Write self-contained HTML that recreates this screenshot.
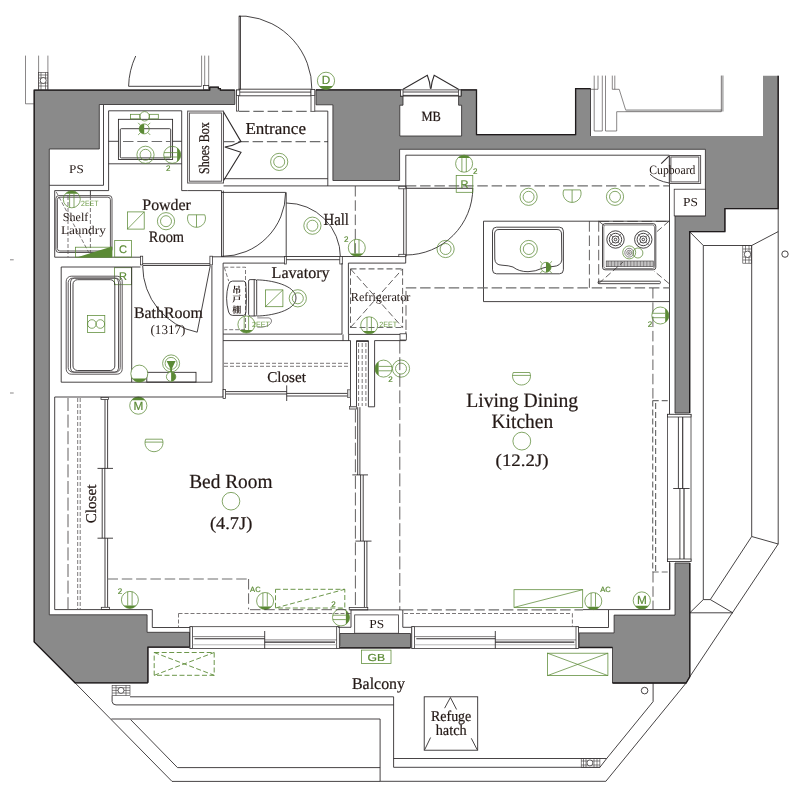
<!DOCTYPE html>
<html lang="en"><head><meta charset="utf-8"><title>Floor plan</title>
<style>
html,body{margin:0;padding:0;background:#fff;}
body{width:803px;height:805px;overflow:hidden;}
svg{display:block;will-change:transform;}
.w{fill:#8a8a8a;stroke:none;}
.wo{fill:none;stroke:#1f1b1c;stroke-width:1.3;stroke-linejoin:miter;}
.wi{fill:none;stroke:#2a2627;stroke-width:0.8;}
.l{fill:none;stroke:#262223;stroke-width:0.85;}
.l2{fill:none;stroke:#2f2b2c;stroke-width:1.1;}
.lt{fill:none;stroke:#3a3637;stroke-width:0.6;}
.lw{fill:#fff;stroke:#2f2b2c;stroke-width:0.75;}
.lg{fill:none;stroke:#5a5657;stroke-width:1;}
.gw{fill:#fff;stroke:#5b8a35;stroke-width:0.75;}
.d{fill:none;stroke:#6e6e6e;stroke-width:1.2;stroke-dasharray:10.5 3.8;}
.ds{fill:none;stroke:#5a5657;stroke-width:0.8;stroke-dasharray:4 2;}
.g{fill:none;stroke:#5b8a35;stroke-width:0.75;}
.gf{fill:#5b8a35;stroke:none;}
.gd{fill:none;stroke:#5b8a35;stroke-width:0.9;stroke-dasharray:5 2.5;}
.dv{fill:none;stroke:#3c3839;stroke-width:0.8;stroke-dasharray:10.5 3.8;}
.dv2{fill:none;stroke:#3c3839;stroke-width:0.8;stroke-dasharray:13 3.6;}
.lf{fill:#cfcfcf;stroke:#4a4647;stroke-width:0.7;}
.lx{fill:none;stroke:#9a9a9a;stroke-width:0.7;}
.dv3{fill:none;stroke:#3c3839;stroke-width:0.8;stroke-dasharray:6.5 3;}
.lgr{fill:none;stroke:#b4b4b4;stroke-width:2.2;}
.d2{fill:none;stroke:#6e6e6e;stroke-width:1.2;stroke-dasharray:6 3;}
.t{font-family:"Liberation Serif","Noto Serif CJK SC",serif;fill:#231815;}
.tb{stroke:#231815;stroke-width:0.22;}
text{text-rendering:geometricPrecision;}
.tg{font-family:"Liberation Sans",sans-serif;fill:#5b8a35;stroke:#5b8a35;stroke-width:0.2;}
.tgs{font-family:"Liberation Sans",sans-serif;fill:#6b9a45;}
.tj{font-family:"Liberation Serif","Noto Serif CJK JP","Noto Serif CJK SC","Noto Sans CJK JP",serif;fill:#231815;}
</style></head>
<body>
<svg width="803" height="805" viewBox="0 0 803 805">
<path class="w" d="M34.2,90.1 L201,90.1 L209.7,90.1 L209.7,87.2 L218.4,87.2 L218.4,88.7 L220.4,88.7 L220.4,90.1 L234.8,90.1 L234.8,104.5 L99.3,104.5 L99.3,149 L49.3,149 L49.3,614.8 L147.1,614.8 L147.1,632.3 L189.5,632.3 L189.5,647.2 L147.9,647.2 L147.9,682.8 L75,682.8 L34.2,642 Z"/>
<path class="w" d="M316,89.9 L400.5,89.9 L400.5,96.1 L403,96.1 L403,105.2 L399.8,105.2 L399.8,136 L461.6,136 L461.6,105.2 L458.6,105.2 L458.6,96.1 L461,96.1 L461,89.9 L476.5,89.9 L476.5,134.7 L575.6,134.7 L575.6,88.6 L590.5,88.6 L590.5,136 L763,136 L763,75.8 L778.2,75.8 L778.2,208.6 L724.9,208.6 L724.9,231.6 L689.7,231.6 L689.7,413 L675,413 L675,215.9 L705.4,215.9 L705.4,149.3 L399.6,149.3 L399.6,180.5 L332.9,180.5 L332.9,104.8 L316,104.8 Z"/>
<path class="w" d="M675,563 L689.8,563 L689.8,676.7 L686.1,683 L612.5,683 L612.5,647.5 L579.2,647.5 L579.2,632.9 L614.1,632.9 L614.1,615.1 L675,615.1 Z"/>
<path class="w" d="M339.8,633.5 L410.5,633.5 L410.5,647.9 L338.5,647.9 L339.8,645.5 Z"/>
<path class="wi" d="M34.2,90.1 L201,90.1 L209.7,90.1 L209.7,87.2 L218.4,87.2 L218.4,88.7 L220.4,88.7 L220.4,90.1 L234.8,90.1 L234.8,104.5 L99.3,104.5 L99.3,149 L49.3,149 L49.3,614.8 L147.1,614.8 L147.1,632.3 L189.5,632.3 L189.5,647.2 L147.9,647.2 L147.9,682.8 L75,682.8 L34.2,642 Z"/>
<path class="wi" d="M675,563 L689.8,563 L689.8,676.7 L686.1,683 L612.5,683 L612.5,647.5 L579.2,647.5 L579.2,632.9 L614.1,632.9 L614.1,615.1 L675,615.1 Z"/>
<path class="wi" d="M339.8,633.5 L410.5,633.5 L410.5,647.9 L338.5,647.9 L339.8,645.5 Z"/>
<path class="wi" d="M316,89.9 L400.5,89.9 L400.5,96.1 L403,96.1 L403,105.2 L399.8,105.2 L399.8,136 L461.6,136 L461.6,105.2 L458.6,105.2 L458.6,96.1 L461,96.1 L461,89.9 L476.5,89.9 L476.5,134.7 L575.6,134.7 L575.6,88.6 L590.5,88.6 L590.5,136"/>
<path class="wi" d="M778.2,75.8 L778.2,208.6 L724.9,208.6 L724.9,231.6 L689.7,231.6 L689.7,413 L675,413 L675,215.9 L705.4,215.9 L705.4,149.3 L399.6,149.3 L399.6,180.5 L332.9,180.5 L332.9,104.8 L316,104.8 L316,89.9"/>
<path class="wo" d="M234.8,90.1 L220.4,90.1 L220.4,88.7 L218.4,88.7 L218.4,87.2 L209.7,87.2 L209.7,90.1 L34.2,90.1 L34.2,642 L75,682.8 L147.9,682.8"/>
<path class="wo" d="M316,89.9 L400.5,89.9"/>
<path class="wo" d="M461,89.9 L476.5,89.9 L476.5,134.7 L575.6,134.7 L575.6,88.6 L590.5,88.6"/>
<path class="wo" d="M778.2,75.8 L778.2,208.6 L724.9,208.6 L724.9,231.6 L689.7,231.6 L689.7,413"/>
<path class="wo" d="M689.8,563 L689.8,676.7 L686.1,683 L612.5,683"/>
<path class="wo" d="M338.5,647.9 L410.5,647.9"/>
<path class="wo" d="M579.2,647.5 L612.5,647.5"/>
<path class="wo" d="M189.5,647.2 L147.9,647.2 L147.9,682.8"/>
<path class="lt" d="M25.5,55.6 L25.5,103.8 L34.2,103.8"/>
<path class="lt" d="M38.6,55.6 L38.6,90"/>
<path class="lt" d="M47.9,55.6 L47.9,90"/>
<rect class="lt" x="38.6" y="72.4" width="9.3" height="17.6"/>
<path class="lt" d="M38.6,75 L47.9,75"/>
<path class="lt" d="M38.6,78 L47.9,78"/>
<path class="lt" d="M38.6,83 L47.9,83"/>
<path class="lt" d="M38.6,86 L47.9,86"/>
<path class="lt" d="M41,72.4 L41,90"/>
<path class="lt" d="M45.5,72.4 L45.5,90"/>
<circle class="lw" cx="43.2" cy="80.5" r="3"/>
<path class="l" d="M135.7,56 A76,76 0 0 0 128.6,86.3 L201.6,86.3"/>
<path class="lt" d="M201.6,55.6 L201.6,86"/>
<path class="lt" d="M204.7,55.6 L204.7,86"/>
<path class="lt" d="M208.7,55.6 L208.7,86"/>
<rect class="lw" x="203.6" y="85.6" width="5.1" height="4"/>
<path class="l" d="M239.1,16.2 L246,16.2 A73,73 0 0 1 311.9,89.8"/>
<rect class="l" x="239.1" y="16.2" width="1.3" height="73"/>
<path class="l" d="M238.5,89.2 L311,89.2"/>
<path class="l" d="M238.5,92.1 L311,92.1"/>
<path class="l" d="M238.5,95.8 L311,95.8"/>
<rect class="lw" x="236.6" y="90" width="1.9" height="21.1"/>
<rect class="lw" x="236.6" y="90" width="3.2" height="5.6"/>
<rect class="lw" x="311" y="89.8" width="3.8" height="21.5"/>
<rect class="lw" x="311" y="89.5" width="3.8" height="6.1"/>
<path class="d" d="M239,111.3 L311,111.3"/>
<path class="d" d="M224,141.6 L328,141.6"/>
<path class="l" d="M314.8,111.1 L327.8,111.1 L327.8,185.9"/>
<path class="l" d="M223.5,178.7 L327.8,178.7"/>
<path class="l" d="M103.5,105 L103.5,185.3 L49.5,185.3"/>
<path class="l" d="M54.7,257.2 L54.7,190.6 L108.6,190.6 L108.6,110.8 L181.7,110.8 L181.7,190.6 L187.4,190.6"/>
<path class="l" d="M223.5,185.9 L405.8,185.9"/>
<path class="l" d="M187.4,190.6 L221.5,190.6"/>
<rect class="lg" x="187.6" y="111.1" width="35.9" height="71.9"/>
<rect class="lg" x="189.4" y="113" width="32.2" height="68.2"/>
<path class="l2" d="M223.6,112 L241,141.6 Q233,146 224.8,147 L241,152.2 L223.6,180.5"/>
<path class="l" d="M108.6,141.3 L118.4,141.3"/>
<path class="l" d="M172.6,141.3 L181.7,141.3"/>
<path class="l" d="M108.6,163.8 L181.7,163.8"/>
<rect class="l" x="118.4" y="119.3" width="54.2" height="40.2"/>
<rect class="l" x="120.3" y="128.7" width="50.4" height="29.2" rx="1"/>
<path class="d" d="M123,141.5 L170,141.5"/>
<circle class="g" cx="144.6" cy="116.3" r="4.7"/>
<rect class="g" x="130.5" y="114.3" width="9.4" height="4.6"/>
<rect class="g" x="149.3" y="114.3" width="9" height="4.6"/>
<circle class="g" cx="144.2" cy="128.9" r="5"/>
<path class="gf" d="M144.2,123.9 A5,5 0 0 0 144.2,133.9 Z"/>
<path class="g" d="M140.6,125.3 L138.152,122.852"/>
<path class="g" d="M140.6,132.5 L138.152,134.948"/>
<path class="g" d="M147.8,125.3 L150.248,122.852"/>
<path class="g" d="M147.8,132.5 L150.248,134.948"/>
<circle class="g" cx="145.5" cy="154.8" r="8.6"/>
<circle class="g" cx="145.5" cy="154.8" r="5.5"/>
<circle class="g" cx="172.2" cy="154.8" r="8.5"/>
<path class="gf" d="M177.10,147.85 A8.5,8.5 0 0 1 177.10,161.75 Z"/>
<path class="g" d="M163.99,152.6 L177.1,152.6"/>
<path class="g" d="M163.99,157 L177.1,157"/>
<text class="tg" x="168.2" y="171.2" font-size="8" text-anchor="middle">2</text>
<rect class="g" x="127.4" y="211.9" width="16.8" height="17.2"/>
<path class="g" d="M127.4,229.1 L144.2,211.9"/>
<circle class="g" cx="166" cy="221.2" r="8.6"/>
<circle class="g" cx="166" cy="221.2" r="5.5"/>
<path class="g" d="M188.21,214.80 L204.79,214.80 A9,9 0 1 1 188.21,214.80 Z"/>
<path class="g" d="M196.5,214.8 L196.5,227.3"/>
<path class="l" d="M54.7,257.2 L140.5,257.2"/>
<path class="l" d="M90.4,190.6 L90.4,196"/>
<path class="ds" d="M90.4,196 L90.4,257"/>
<path class="ds" d="M68,196 L68,257"/>
<path class="ds" d="M56.2,191.8 L88.6,252.2"/>
<rect class="lg" x="55.9" y="195.6" width="56.1" height="56.9" rx="3"/>
<rect class="lg" x="57.4" y="197.2" width="53" height="53.8" rx="2.5"/>
<circle class="g" cx="71.8" cy="199.3" r="8.5"/>
<path class="gf" d="M65.41,193.70 A8.5,8.5 0 0 1 78.19,193.70 Z"/>
<path class="g" d="M69.6,193.7 L69.6,207.51"/>
<path class="g" d="M74,193.7 L74,207.51"/>
<text class="tgs" x="81.1" y="205.5" font-size="7.6" textLength="17.4" lengthAdjust="spacingAndGlyphs">2EET</text>
<rect class="g" x="75.5" y="247.2" width="36.5" height="10"/>
<path class="gf" d="M112,246.6 L112,257.2 L77.4,257.2 Z"/>
<rect class="g" x="114.7" y="240.6" width="16.8" height="16.6"/>
<text class="tg" x="123.1" y="252.86" font-size="11" text-anchor="middle">C</text>
<rect class="g" x="114.4" y="267.7" width="17.2" height="17"/>
<text class="tg" x="123" y="280.16" font-size="11" text-anchor="middle">R</text>
<path class="l" d="M131.7,267 L61.2,267 L61.2,382.2 L211.9,382.2 L211.9,265.5"/>
<path class="l" d="M131.7,267 L140.5,267"/>
<path class="l" d="M131.7,267 L131.7,382.2"/>
<rect class="lg" x="66.2" y="276.2" width="56" height="98" rx="5"/>
<rect class="lg" x="68.2" y="278.1" width="52" height="94.1" rx="4.5"/>
<rect class="lg" x="70.5" y="278.1" width="48" height="94.1" rx="4"/>
<rect class="l" x="73" y="279.7" width="41.8" height="90.8" rx="4.5"/>
<rect class="g" x="87.4" y="315.4" width="17.4" height="17.1"/>
<circle class="g" cx="91.9" cy="324" r="4.3"/>
<circle class="g" cx="100.3" cy="324" r="4.3"/>
<rect class="lw" x="140.5" y="256.2" width="2.2" height="8.7"/>
<rect class="lw" x="209.9" y="256.2" width="2.5" height="8.7"/>
<path class="l" d="M142.7,263.7 L209.9,263.7"/>
<path class="l" d="M142.7,265.5 L209.9,265.5"/>
<path class="l" d="M142.7,266 A67.6,67.6 0 0 0 197.2,332.2 L210.3,265.5"/>
<rect class="l" x="146.8" y="372.3" width="49.2" height="9.8"/>
<circle class="gw" cx="139.3" cy="373.6" r="8.5"/>
<path class="gf" d="M132.43,378.60 A8.5,8.5 0 0 0 146.17,378.60 Z"/>
<circle class="g" cx="171.1" cy="363.4" r="8.5"/>
<circle class="g" cx="171.1" cy="363.4" r="6"/>
<path class="gf" d="M166.6,361 L175.6,361 L172,368.5 L172,372.5 L170.2,372.5 L170.2,368.5 Z"/>
<circle class="gw" cx="171.1" cy="376.7" r="4.7"/>
<path class="gf" d="M171.1,372 A4.7,4.7 0 0 1 171.1,381.4 Z"/>
<circle class="g" cx="138.3" cy="405.6" r="8.6"/>
<path class="gf" d="M131.53,400.30 A8.6,8.6 0 0 1 145.07,400.30 Z"/>
<text class="tg" x="138.3" y="410.448" font-size="11.8" text-anchor="middle">M</text>
<path class="l" d="M221.5,192.4 L285.6,192.4"/>
<path class="l" d="M285.6,192.4 A64,64 0 0 1 221.5,256.4"/>
<path class="l" d="M286.2,192.4 L286.2,257"/>
<path class="l" d="M286.2,203 A54.2,54.2 0 0 1 340.4,257.2"/>
<path class="l" d="M221.5,190.6 L221.5,256.8"/>
<path class="l" d="M223.3,190.6 L223.3,256.8"/>
<path class="l" d="M212.4,256.8 L285,256.8"/>
<path class="l" d="M285,256.5 L342.3,256.5"/>
<path class="l" d="M285,259.7 L342.3,259.7"/>
<rect class="lw" x="284.4" y="256.5" width="1.9" height="7.5"/>
<rect class="lw" x="339.8" y="256.5" width="2.5" height="7.5"/>
<path class="l" d="M342.3,256.5 L405.7,256.5"/>
<path class="dv" d="M355.3,186 L355.3,256.5"/>
<circle class="g" cx="312.4" cy="225.7" r="8.6"/>
<circle class="g" cx="312.4" cy="225.7" r="5.5"/>
<circle class="g" cx="356.8" cy="247.8" r="8.5"/>
<path class="gf" d="M350.41,253.40 A8.5,8.5 0 0 0 363.19,253.40 Z"/>
<path class="g" d="M354.6,239.59 L354.6,253.4"/>
<path class="g" d="M359,239.59 L359,253.4"/>
<text class="tg" x="346.3" y="241.6" font-size="8" text-anchor="middle">2</text>
<path class="l" d="M284.4,263.1 L223.1,263.1 L223.1,334.1 L342,334.1 L342,263.1"/>
<path class="ds" d="M224.3,267.2 L245.5,267.2 L245.5,329.7 L224.3,329.7"/>
<path class="ds" d="M224.3,267.4 L228.7,281.1"/>
<path class="l" d="M232.5,281.1 L243.5,281.1 Q245.6,281.1 245.9,284 Q247,298.2 245.9,312.5 Q245.6,315.4 243.5,315.4 L232.5,315.4 Q229.5,315.4 228.6,312 Q224.6,298.2 228.6,284.5 Q229.5,281.1 232.5,281.1 Z"/>
<rect class="l" x="248.6" y="279.6" width="8.1" height="36.4" rx="1.5"/>
<path class="l" d="M254.2,279.6 L254.2,316"/>
<path class="l" d="M256.7,279.9 C270,279.9 296,285 296,298 C296,311 270,316 256.7,316"/>
<path class="lt" d="M257.3,317.9 L269,317.9 Q271.6,318.5 271.6,321 Q271,326 262,327.2 L257.3,327.2"/>
<rect class="g" x="265.4" y="289.9" width="17.5" height="16.8"/>
<path class="g" d="M265.4,306.7 L282.9,289.9"/>
<circle class="g" cx="297.8" cy="298.3" r="8.6"/>
<circle class="g" cx="297.8" cy="298.3" r="5.5"/>
<circle class="g" cx="246.4" cy="324.5" r="8.5"/>
<path class="gf" d="M240.01,330.10 A8.5,8.5 0 0 0 252.79,330.10 Z"/>
<path class="g" d="M244.2,316.29 L244.2,330.1"/>
<path class="g" d="M248.6,316.29 L248.6,330.1"/>
<text class="tgs" x="252" y="327" font-size="7.6" textLength="18" lengthAdjust="spacingAndGlyphs">2EET</text>
<text class="tj" font-size="9" font-weight="bold" text-anchor="middle"><tspan x="236.7" y="292.8">吊</tspan><tspan x="236.7" y="302.1">戸</tspan><tspan x="236.7" y="312.6">棚</tspan></text>
<path class="l" d="M405.7,256.5 L405.7,263.1 L348.4,263.1 L348.4,334.1"/>
<path class="l" d="M343,334.4 L343,340.6"/>
<path class="l" d="M348.6,334.4 L348.6,340.6"/>
<path class="l" d="M348.4,334.4 L405.9,334.4"/>
<path class="l" d="M405.9,331.5 L405.9,337.5"/>
<path class="d2" d="M350.5,268.9 L402.6,268.9"/>
<path class="d2" d="M350.5,327.5 L402.6,327.5"/>
<path class="dv3" d="M350.5,268.9 L350.5,327.5"/>
<path class="dv3" d="M402.6,268.9 L402.6,327.5"/>
<path class="dv3" d="M350.5,268.9 L402.6,327.5"/>
<path class="dv3" d="M350.5,327.5 L402.6,268.9"/>
<circle class="g" cx="369.2" cy="325.3" r="8.5"/>
<path class="gf" d="M362.81,330.90 A8.5,8.5 0 0 0 375.59,330.90 Z"/>
<path class="g" d="M367,317.09 L367,330.9"/>
<path class="g" d="M371.4,317.09 L371.4,330.9"/>
<text class="tgs" x="379.2" y="327" font-size="7.6" textLength="18" lengthAdjust="spacingAndGlyphs">2EET</text>
<path class="dv" d="M406,330 L406,287.6"/>
<path class="l" d="M223.1,334.1 L223.1,340.6"/>
<path class="l" d="M223.1,397 L223.1,340.6 L350.5,340.6 L350.5,406.8"/>
<path class="ds" d="M224,363.3 L350,363.3"/>
<path class="ds" d="M224,366.3 L350,366.3"/>
<path class="l" d="M225.6,391.6 L286.7,391.6"/>
<path class="l" d="M225.6,394 L286.7,394"/>
<path class="l" d="M286.7,393.4 L347.6,393.4"/>
<path class="l" d="M286.7,396 L347.6,396"/>
<path class="l" d="M286.7,385.4 L286.7,401"/>
<rect class="lf" x="347.6" y="389.8" width="2.8" height="7.8"/>
<rect class="lw" x="223.1" y="389.6" width="2.5" height="9"/>
<path class="l" d="M356.5,407 L356.5,340.6 L368.4,340.6 L368.4,406.8 L374.6,406.8 L374.6,340.6 L405.9,340.6"/>
<path class="l" d="M356.5,341.5 L368.4,341.5"/>
<path class="ds" d="M358.6,343 L358.6,406"/>
<path class="ds" d="M362.2,343 L362.2,406"/>
<path class="ds" d="M365.9,343 L365.9,406"/>
<rect class="lf" x="349.4" y="406.5" width="7.2" height="2.6"/>
<circle class="g" cx="383.5" cy="368.6" r="8.5"/>
<path class="gf" d="M378.60,361.65 A8.5,8.5 0 0 0 378.60,375.55 Z"/>
<path class="g" d="M378.6,366.4 L391.71,366.4"/>
<path class="g" d="M378.6,370.8 L391.71,370.8"/>
<text class="tg" x="390.4" y="382.3" font-size="8" text-anchor="middle">2</text>
<circle class="g" cx="401" cy="368.6" r="8.6"/>
<circle class="g" cx="401" cy="368.6" r="5.5"/>
<path class="dv2" d="M399.8,340.6 L399.8,610"/>
<path class="l" d="M472.8,188 A67,67 0 0 1 405.8,255"/>
<rect class="lw" x="398.8" y="186.3" width="7.4" height="2.5"/>
<path class="l" d="M403.7,188.8 L403.7,256.5"/>
<path class="l" d="M406.2,188.8 L406.2,256.5"/>
<rect class="lw" x="398.8" y="254.3" width="6.8" height="2.4"/>
<rect class="lw" x="400" y="333.8" width="6.3" height="6.2"/>
<path class="d" d="M405.8,185.9 L669.3,185.9"/>
<path class="l2" d="M405.8,188.2 L472.8,188.2"/>
<path class="l" d="M405.8,188 L405.8,155.2 L669.3,155.2"/>
<path class="l" d="M669.5,155.2 L669.5,414.3"/>
<circle class="g" cx="464.1" cy="163.7" r="8.5"/>
<path class="gf" d="M457.71,158.10 A8.5,8.5 0 0 1 470.49,158.10 Z"/>
<path class="g" d="M461.9,158.1 L461.9,171.91"/>
<path class="g" d="M466.3,158.1 L466.3,171.91"/>
<text class="tg" x="475.3" y="173.6" font-size="8" text-anchor="middle">2</text>
<rect class="g" x="456.2" y="175.5" width="16.6" height="16.8"/>
<text class="tg" x="464.5" y="187.86" font-size="11" text-anchor="middle">R</text>
<circle class="g" cx="445.6" cy="249" r="8.6"/>
<circle class="g" cx="445.6" cy="249" r="5.5"/>
<circle class="g" cx="528.6" cy="196.8" r="8.6"/>
<circle class="g" cx="528.6" cy="196.8" r="5.5"/>
<circle class="g" cx="615" cy="196.8" r="8.6"/>
<circle class="g" cx="615" cy="196.8" r="5.5"/>
<path class="g" d="M563.81,189.90 L580.39,189.90 A9,9 0 1 1 563.81,189.90 Z"/>
<path class="g" d="M572.1,189.9 L572.1,202.4"/>
<rect class="lg" x="669.3" y="155.5" width="31.3" height="28"/>
<rect class="lg" x="670.9" y="157" width="27.9" height="24.9"/>
<path class="l2" d="M668.9,156.2 L661.2,163.6"/>
<path class="l" d="M650,174.2 Q657,181 669.3,183"/>
<rect class="lw" x="674.2" y="189.2" width="31.2" height="26.7"/>
<path class="l" d="M669.5,221.2 L483.5,221.2 L483.5,301.6 L669.5,301.6"/>
<rect class="l" x="492.5" y="227.2" width="70.9" height="46.6" rx="4"/>
<path class="l" d="M499,229.5 L557,229.5 Q561.5,229.5 561.5,234 L561.8,260 Q561,266 553,266.5 Q547,266.5 543,268 Q535,271.7 528,271.7 Q519,271.7 513,267 Q509,265.5 502,265.2 Q495,265 494.8,259 L494.6,234 Q494.6,229.5 499,229.5 Z"/>
<circle class="g" cx="528.8" cy="249" r="8.6"/>
<circle class="g" cx="528.8" cy="249" r="5.5"/>
<circle class="g" cx="546" cy="267.3" r="5"/>
<path class="gf" d="M546,262.3 A5,5 0 0 1 546,272.3 Z"/>
<path class="g" d="M542.4,263.7 L539.952,261.252"/>
<path class="g" d="M542.4,270.9 L539.952,273.348"/>
<path class="g" d="M549.6,263.7 L552.048,261.252"/>
<path class="g" d="M549.6,270.9 L552.048,273.348"/>
<path class="d" d="M405.8,287.8 L669.5,287.8"/>
<path class="dv" d="M589.4,221.2 L589.4,287.8"/>
<path class="dv" d="M598.7,221.2 L598.7,283.5"/>
<path class="dv" d="M598.7,221.4 L669,221.4"/>
<path class="dv3" d="M669,221.2 L655.3,233"/>
<path class="dv3" d="M598.7,283.5 L623,262"/>
<path class="dv3" d="M669,283.5 L654,271"/>
<path class="dv3" d="M598.7,221.2 L606,227"/>
<rect class="l" x="602.5" y="223.7" width="53.3" height="46.1" rx="2.5"/>
<rect class="lt" x="603.8" y="225" width="50.7" height="43.5" rx="2"/>
<circle class="l" cx="615.5" cy="239.5" r="8.7"/>
<circle class="l" cx="615.5" cy="239.5" r="6.2"/>
<circle class="l" cx="615.5" cy="239.5" r="3.5"/>
<circle class="l" cx="615.5" cy="239.5" r="1.3"/>
<path class="lt" d="M617.975,241.975 L621.652,245.652"/>
<path class="lt" d="M613.025,241.975 L609.348,245.652"/>
<path class="lt" d="M613.025,237.025 L609.348,233.348"/>
<path class="lt" d="M617.975,237.025 L621.652,233.348"/>
<circle class="l" cx="643.3" cy="239.5" r="8.7"/>
<circle class="l" cx="643.3" cy="239.5" r="6.2"/>
<circle class="l" cx="643.3" cy="239.5" r="3.5"/>
<circle class="l" cx="643.3" cy="239.5" r="1.3"/>
<path class="lt" d="M645.775,241.975 L649.452,245.652"/>
<path class="lt" d="M640.825,241.975 L637.148,245.652"/>
<path class="lt" d="M640.825,237.025 L637.148,233.348"/>
<path class="lt" d="M645.775,237.025 L649.452,233.348"/>
<circle class="lt" cx="629.2" cy="252.7" r="4.4"/>
<circle class="lt" cx="629.2" cy="252.7" r="2.5"/>
<circle class="lt" cx="629.2" cy="252.7" r="1"/>
<circle class="g" cx="629.2" cy="252.4" r="6.5"/>
<circle class="g" cx="637.9" cy="253" r="5"/>
<rect class="lt" x="606.2" y="261" width="47.3" height="5.7"/>
<path class="lt" d="M607.2,261 L607.2,266.7"/>
<path class="lt" d="M608.65,261 L608.65,266.7"/>
<path class="lt" d="M610.1,261 L610.1,266.7"/>
<path class="lt" d="M611.55,261 L611.55,266.7"/>
<path class="lt" d="M613,261 L613,266.7"/>
<path class="lt" d="M614.45,261 L614.45,266.7"/>
<path class="lt" d="M615.9,261 L615.9,266.7"/>
<path class="lt" d="M617.35,261 L617.35,266.7"/>
<path class="lt" d="M618.8,261 L618.8,266.7"/>
<path class="lt" d="M620.25,261 L620.25,266.7"/>
<path class="lt" d="M621.7,261 L621.7,266.7"/>
<path class="lt" d="M623.15,261 L623.15,266.7"/>
<path class="lt" d="M624.6,261 L624.6,266.7"/>
<path class="lt" d="M626.05,261 L626.05,266.7"/>
<path class="lt" d="M627.5,261 L627.5,266.7"/>
<path class="lt" d="M628.95,261 L628.95,266.7"/>
<path class="lt" d="M630.4,261 L630.4,266.7"/>
<path class="lt" d="M631.85,261 L631.85,266.7"/>
<path class="lt" d="M633.3,261 L633.3,266.7"/>
<path class="lt" d="M634.75,261 L634.75,266.7"/>
<path class="lt" d="M636.2,261 L636.2,266.7"/>
<path class="lt" d="M637.65,261 L637.65,266.7"/>
<path class="lt" d="M639.1,261 L639.1,266.7"/>
<path class="lt" d="M640.55,261 L640.55,266.7"/>
<path class="lt" d="M642,261 L642,266.7"/>
<path class="lt" d="M643.45,261 L643.45,266.7"/>
<path class="lt" d="M644.9,261 L644.9,266.7"/>
<path class="lt" d="M646.35,261 L646.35,266.7"/>
<path class="lt" d="M647.8,261 L647.8,266.7"/>
<path class="lt" d="M649.25,261 L649.25,266.7"/>
<path class="lt" d="M650.7,261 L650.7,266.7"/>
<path class="lt" d="M652.15,261 L652.15,266.7"/>
<rect class="l" x="598.1" y="281.2" width="62.3" height="2.5" rx="1"/>
<path class="dv" d="M652.9,288 L652.9,400"/>
<circle class="g" cx="660.3" cy="315.5" r="8.5"/>
<path class="gf" d="M665.20,308.55 A8.5,8.5 0 0 1 665.20,322.45 Z"/>
<path class="g" d="M652.09,313.3 L665.2,313.3"/>
<path class="g" d="M652.09,317.7 L665.2,317.7"/>
<text class="tg" x="649.9" y="327.1" font-size="8" text-anchor="middle">2</text>
<path class="g" d="M513.21,372.50 L529.79,372.50 A9,9 0 1 1 513.21,372.50 Z"/>
<path class="g" d="M512.52,375.4 L530.48,375.4"/>
<path class="l" d="M54.7,397 L223.1,397"/>
<path class="l" d="M54.7,397 L54.7,609.6"/>
<path class="dv2" d="M68,398 L68,609"/>
<path class="ds" d="M77.7,398 L77.7,609"/>
<path class="ds" d="M80.2,398 L80.2,609"/>
<rect class="lw" x="101" y="397.4" width="7.6" height="2.2"/>
<path class="l" d="M105,399.6 L105,468.4"/>
<path class="l" d="M107.6,399.6 L107.6,468.4"/>
<path class="l" d="M102.2,468.4 L102.2,538.2"/>
<path class="l" d="M104.8,468.4 L104.8,538.2"/>
<path class="l" d="M105,538.2 L105,607.2"/>
<path class="l" d="M107.6,538.2 L107.6,607.2"/>
<path class="l" d="M97.5,468.4 L113,468.4"/>
<path class="l" d="M97.5,538.2 L113,538.2"/>
<rect class="lw" x="101.3" y="607.3" width="8.1" height="2.3"/>
<path class="g" d="M145.71,439.20 L162.29,439.20 A9,9 0 1 1 145.71,439.20 Z"/>
<path class="g" d="M145.02,442.1 L162.98,442.1"/>
<circle class="g" cx="231" cy="501.2" r="8.8"/>
<path class="d" d="M107.5,579 L248.6,579"/>
<path class="dv" d="M248.6,579 L248.6,609.3"/>
<circle class="g" cx="129.9" cy="599.9" r="8.5"/>
<path class="gf" d="M123.51,605.50 A8.5,8.5 0 0 0 136.29,605.50 Z"/>
<path class="g" d="M127.7,591.69 L127.7,605.5"/>
<path class="g" d="M132.1,591.69 L132.1,605.5"/>
<text class="tg" x="120" y="593.7" font-size="8" text-anchor="middle">2</text>
<text class="tg" x="255.4" y="591.8" font-size="7.6" text-anchor="middle">AC</text>
<circle class="g" cx="265.1" cy="601" r="8.5"/>
<path class="gf" d="M258.71,606.60 A8.5,8.5 0 0 0 271.49,606.60 Z"/>
<path class="g" d="M262.9,592.79 L262.9,606.6"/>
<path class="g" d="M267.3,592.79 L267.3,606.6"/>
<rect class="gd" x="275.5" y="589.3" width="69.3" height="18.7"/>
<path class="gd" d="M275.5,608 L344.8,589.3"/>
<text class="tg" x="333.5" y="606.8" font-size="8" text-anchor="middle">2</text>
<circle class="g" cx="341" cy="617.4" r="8.5"/>
<path class="gf" d="M345.90,610.45 A8.5,8.5 0 0 1 345.90,624.35 Z"/>
<path class="g" d="M332.79,615.2 L345.9,615.2"/>
<path class="g" d="M332.79,619.6 L345.9,619.6"/>
<path class="dv2" d="M355.4,409.5 L355.4,609"/>
<path class="l" d="M357.7,407.2 L357.7,475"/>
<path class="l" d="M359.9,407.2 L359.9,475"/>
<path class="l" d="M360.6,475 L360.6,541"/>
<path class="l" d="M363.2,475 L363.2,541"/>
<path class="l" d="M364.4,541 L364.4,607.5"/>
<path class="l" d="M366.9,541 L366.9,607.5"/>
<path class="l" d="M352.3,474.9 L368,474.9"/>
<path class="l" d="M355.4,541.1 L371.5,541.1"/>
<rect class="lw" x="349.2" y="607.4" width="18.6" height="2.5"/>
<path class="l" d="M54.7,609.6 L152.3,609.6 L152.3,627.5 L190,627.5"/>
<path class="l" d="M0,0 L0,0"/>
<rect class="lw" x="190" y="626.7" width="148" height="21.8"/>
<rect class="lw" x="190" y="626.7" width="2.6" height="21.8"/>
<rect class="lw" x="336.7" y="626.7" width="2.6" height="21.8"/>
<path class="lt" d="M192.6,636.6 L264.7,636.6"/>
<path class="l2" d="M194.5,638.7 L264.7,638.7"/>
<path class="lt" d="M264.7,639.9 L336.7,639.9"/>
<path class="l2" d="M264.7,642.1 L335,642.1"/>
<path class="lx" d="M192.6,644.8 L336.7,644.8"/>
<path class="l" d="M264.7,631 L264.7,648.5"/>
<path class="ds" d="M178.5,613.5 L351,613.5"/>
<path class="ds" d="M178.5,613.5 L178.5,627.5"/>
<path class="dv" d="M250,609.7 L351,609.7"/>
<path class="l" d="M338,627.3 L351,627.3 L351,609.9 L402.8,609.9 L402.8,627.3 L411.8,627.3"/>
<rect class="lw" x="354.7" y="614.9" width="43.7" height="18.3"/>
<rect class="lw" x="411.8" y="626.7" width="166.8" height="21.8"/>
<rect class="lw" x="411.8" y="626.7" width="2.6" height="21.8"/>
<rect class="lw" x="576" y="626.7" width="2.6" height="21.8"/>
<path class="lt" d="M414.4,636.6 L495.3,636.6"/>
<path class="l2" d="M416.3,638.8 L495.3,638.8"/>
<path class="lt" d="M495.3,639.9 L576,639.9"/>
<path class="l2" d="M495.3,642.1 L574.3,642.1"/>
<path class="lx" d="M414.4,644.8 L576,644.8"/>
<path class="l" d="M495.3,631 L495.3,648.5"/>
<path class="d" d="M402.8,609.9 L583,609.9"/>
<path class="ds" d="M404,613.5 L572.4,613.5"/>
<path class="ds" d="M572.4,613.5 L572.4,627"/>
<path class="l" d="M578.6,627.5 L608.5,627.5 L608.5,609.6 L669.8,609.6 L669.8,563"/>
<path class="l" d="M583,609.6 L608.5,609.6"/>
<rect class="g" x="514" y="589.7" width="68.7" height="17.7"/>
<path class="g" d="M514,607.4 L582.7,589.7"/>
<circle class="g" cx="593.3" cy="601.1" r="8.5"/>
<path class="gf" d="M586.91,606.70 A8.5,8.5 0 0 0 599.69,606.70 Z"/>
<path class="g" d="M591.1,592.89 L591.1,606.7"/>
<path class="g" d="M595.5,592.89 L595.5,606.7"/>
<text class="tg" x="605.5" y="591.8" font-size="7.6" text-anchor="middle">AC</text>
<circle class="g" cx="641.8" cy="600.5" r="8.6"/>
<path class="gf" d="M635.03,605.80 A8.6,8.6 0 0 0 648.57,605.80 Z"/>
<text class="tg" x="641.8" y="604.148" font-size="11.8" text-anchor="middle">M</text>
<rect class="lw" x="667.6" y="414.3" width="23.4" height="147.2"/>
<rect class="lw" x="667.6" y="414.3" width="23.4" height="2.7"/>
<rect class="lw" x="667.6" y="559" width="23.4" height="2.5"/>
<path class="l" d="M678.4,417 L678.4,488.5"/>
<path class="l2" d="M682.7,417 L682.7,488.5"/>
<path class="l" d="M679.9,488.5 L679.9,559"/>
<path class="l2" d="M684,488.5 L684,559"/>
<path class="l" d="M673.2,488.5 L689.6,488.5"/>
<path class="d2" d="M652.7,400.6 L669.5,400.6"/>
<path class="d2" d="M652.7,400.6 L652.7,572"/>
<path class="d2" d="M655.6,403 L655.6,572"/>
<path class="d2" d="M652.7,572 L669.5,572"/>
<path class="dv" d="M653,572 L653,609.6"/>
<path class="l" d="M669.6,561.5 L669.6,609.6"/>
<rect class="gd" x="154.2" y="652.5" width="60" height="22.8"/>
<path class="gd" d="M154.2,652.5 L214.2,675.3"/>
<path class="gd" d="M154.2,675.3 L214.2,652.5"/>
<rect class="g" x="547.5" y="653.2" width="60.4" height="22.4"/>
<path class="g" d="M547.5,653.2 L607.9,675.6"/>
<path class="g" d="M547.5,675.6 L607.9,653.2"/>
<rect class="g" x="361.6" y="650.1" width="29.4" height="13.3"/>
<text class="tg" x="376.3" y="660.6" font-size="10.2" text-anchor="middle" textLength="17.6" lengthAdjust="spacingAndGlyphs">GB</text>
<rect class="l" x="424.2" y="696.8" width="53.5" height="53.4"/>
<path class="l" d="M444.6,708.2 L450.4,697.5 L456.6,709.5"/>
<path class="l" d="M430.6,737.5 L424.7,749.7"/>
<path class="l" d="M471.3,738.3 L477.2,749.7"/>
<rect class="lt" x="112.1" y="685.3" width="17.9" height="10.2"/>
<path class="lt" d="M112.1,687.8 L130,687.8"/>
<path class="lt" d="M112.1,690.4 L130,690.4"/>
<path class="lt" d="M112.1,693 L130,693"/>
<path class="lt" d="M116,685.3 L116,695.5"/>
<path class="lt" d="M126,685.3 L126,695.5"/>
<circle class="lw" cx="121" cy="690.4" r="3"/>
<path class="l" d="M112.1,695.5 L112.1,701.5 Q112.5,704.9 116,704.9 L393.6,704.9"/>
<path class="l" d="M130,696.8 L393.6,696.8"/>
<path class="l" d="M393.6,696.8 L393.6,767.3 L599.9,767.3"/>
<path class="l" d="M393.6,758.5 L606.7,758.5"/>
<path class="l" d="M111.3,719 L380.1,719"/>
<path class="l" d="M380.1,719 L380.1,781.3 L606.1,781.3"/>
<path class="l" d="M130.7,719.7 L177.5,767.6 L380.1,767.6"/>
<path class="l" d="M75,682.8 L172,781.4 L380.1,781.4"/>
<rect class="lt" x="581.2" y="758.5" width="18.7" height="8.8"/>
<path class="lt" d="M583.5,758.5 L583.5,767.3"/>
<path class="lt" d="M586,758.5 L586,767.3"/>
<path class="lt" d="M594,758.5 L594,767.3"/>
<path class="lt" d="M597,758.5 L597,767.3"/>
<path class="lt" d="M581.2,761 L599.9,761"/>
<path class="lt" d="M581.2,765 L599.9,765"/>
<circle class="lw" cx="589.9" cy="762.9" r="3"/>
<circle class="l" cx="644.6" cy="690.6" r="3.3"/>
<path class="l" d="M653.1,683 L653.1,701.6 L606.7,758.5 L599.9,767.3"/>
<path class="l" d="M689.5,231.6 L703.3,245.5 L703.3,599.6 L710.3,599.6"/>
<path class="l" d="M703.3,245.5 L751.7,245.5"/>
<path class="l" d="M751.7,245.5 L751.7,536.5 L778.2,544"/>
<path class="l" d="M751.7,245.5 L778.2,231.6"/>
<path class="l" d="M778.2,208.6 L778.2,544"/>
<rect class="lt" x="742.8" y="245.5" width="8.9" height="17.7"/>
<path class="lt" d="M742.8,249 L751.7,249"/>
<path class="lt" d="M742.8,252 L751.7,252"/>
<path class="lt" d="M742.8,257 L751.7,257"/>
<path class="lt" d="M742.8,260 L751.7,260"/>
<path class="lt" d="M745.5,245.5 L745.5,263.2"/>
<path class="lt" d="M749,245.5 L749,263.2"/>
<circle class="lw" cx="747.5" cy="254.3" r="3.2"/>
<circle class="l" cx="785" cy="254.1" r="3.2"/>
<path class="l" d="M751.7,536.5 L710.3,599.6 L732.8,612.8"/>
<path class="l" d="M778.2,544 L689.8,676.7"/>
<path class="l" d="M686.1,683 L606.1,781"/>
<path class="l" d="M703.3,599.6 L689.8,612.8 L732.8,612.8"/>
<path class="lt" d="M594.2,75.6 L594.2,89.3"/>
<path class="lt" d="M598,75.6 L598,89.3"/>
<path class="lt" d="M590.5,89.3 L598,89.3"/>
<path class="lt" d="M594.2,89.3 L594.2,131"/>
<path class="lt" d="M602.3,75.6 L602.3,131"/>
<path class="lt" d="M605.5,75.6 L605.5,131"/>
<path class="lt" d="M594.2,131 L602.3,131"/>
<path class="lt" d="M605.5,131 L616.7,131"/>
<path class="lt" d="M612.3,75.6 L612.3,89.3"/>
<path class="lt" d="M614.8,75.6 L614.8,89.3"/>
<path class="lgr" d="M625.6,110.4 L722.6,110.4 L722.6,75.6"/>
<path class="lt" d="M612.3,89.3 L619.2,89.3 L625.6,109.8"/>
<path class="lt" d="M616.7,131 L616.7,111.7 L721.3,111.7 L721.3,75.6"/>
<path class="l2" d="M403,89.3 L427.3,75.2 Q430,82 430.5,88.8"/>
<path class="l2" d="M458.5,89.3 L434.2,75.2 Q431.5,82 431,88.8"/>
<rect class="lw" x="400.5" y="89.9" width="60.5" height="6.2"/>
<path class="l" d="M403,92 L458.6,92"/>
<path class="l" d="M403,95.4 L458.6,95.4"/>
<rect class="lw" x="400.5" y="89.9" width="2.5" height="6.2"/>
<rect class="lw" x="458.6" y="89.9" width="2.4" height="6.2"/>
<circle class="g" cx="279.2" cy="161.9" r="8.6"/>
<circle class="g" cx="279.2" cy="161.9" r="5.5"/>
<circle class="g" cx="521.8" cy="441.1" r="8.9"/>
<circle class="g" cx="326" cy="80.8" r="8.6"/>
<path class="gf" d="M319.23,86.10 A8.6,8.6 0 0 0 332.77,86.10 Z"/>
<text class="tg" x="326" y="84.448" font-size="11.8" text-anchor="middle">D</text>
<path class="lt" d="M10,259.8 L13.7,259.8"/>
<path class="lt" d="M10,393 L13.7,393"/>
<text class="t tb" x="245.4" y="133.8" font-size="16.8" textLength="60.6" lengthAdjust="spacingAndGlyphs">Entrance</text>
<text class="t tb" x="421.4" y="121.2" font-size="14" textLength="19.4" lengthAdjust="spacingAndGlyphs">MB</text>
<text class="t" x="649.3" y="173.6" font-size="12.7" textLength="46.1" lengthAdjust="spacingAndGlyphs">Cupboard</text>
<text class="t" x="69.1" y="173" font-size="12" textLength="14.6" lengthAdjust="spacingAndGlyphs">PS</text>
<text class="t" x="683" y="206.2" font-size="12.2" textLength="14.9" lengthAdjust="spacingAndGlyphs">PS</text>
<text class="t" x="369.2" y="628.3" font-size="12.2" textLength="14.9" lengthAdjust="spacingAndGlyphs">PS</text>
<text class="t" x="62.8" y="220.5" font-size="12" textLength="25.5" lengthAdjust="spacingAndGlyphs">Shelf</text>
<text class="t" x="60.9" y="233.8" font-size="12" textLength="44.9" lengthAdjust="spacingAndGlyphs">Laundry</text>
<text class="t tb" x="142.3" y="210.1" font-size="16" textLength="48.6" lengthAdjust="spacingAndGlyphs">Powder</text>
<text class="t tb" x="148.8" y="241.5" font-size="16" textLength="35.3" lengthAdjust="spacingAndGlyphs">Room</text>
<text class="t tb" x="133.9" y="317.6" font-size="16.2" textLength="68.9" lengthAdjust="spacingAndGlyphs">BathRoom</text>
<text class="t" x="150.5" y="334" font-size="13.2" textLength="34.9" lengthAdjust="spacingAndGlyphs">(1317)</text>
<text class="t tb" x="271.6" y="277.6" font-size="16.5" textLength="58" lengthAdjust="spacingAndGlyphs">Lavatory</text>
<text class="t tb" x="323.4" y="224.8" font-size="17" textLength="25.6" lengthAdjust="spacingAndGlyphs">Hall</text>
<text class="t" x="350.8" y="301.3" font-size="12.3" textLength="59.6" lengthAdjust="spacingAndGlyphs">Refrigerator</text>
<text class="t tb" x="267.2" y="382" font-size="15" textLength="38.7" lengthAdjust="spacingAndGlyphs">Closet</text>
<text class="t tb" x="96.3" y="523.3" font-size="15" textLength="38.7" lengthAdjust="spacingAndGlyphs" transform="rotate(-90 96.3 523.3)">Closet</text>
<text class="t tb" x="208.6" y="174" font-size="14.8" textLength="51.7" lengthAdjust="spacingAndGlyphs" transform="rotate(-90 208.6 174)">Shoes Box</text>
<text class="t tb" x="189.2" y="487.8" font-size="20" textLength="83.3" lengthAdjust="spacingAndGlyphs">Bed Room</text>
<text class="t tb" x="210" y="529.3" font-size="17.8" textLength="42.3" lengthAdjust="spacingAndGlyphs">(4.7J)</text>
<text class="t tb" x="466.2" y="406.8" font-size="20.3" textLength="112" lengthAdjust="spacingAndGlyphs">Living Dining</text>
<text class="t tb" x="491.6" y="428.2" font-size="20.3" textLength="61.5" lengthAdjust="spacingAndGlyphs">Kitchen</text>
<text class="t tb" x="495.6" y="466.3" font-size="17.5" textLength="53" lengthAdjust="spacingAndGlyphs">(12.2J)</text>
<text class="t tb" x="352" y="689.2" font-size="16.5" textLength="53" lengthAdjust="spacingAndGlyphs">Balcony</text>
<text class="t tb" x="431" y="721" font-size="15" textLength="40.3" lengthAdjust="spacingAndGlyphs">Refuge</text>
<text class="t tb" x="435.7" y="735.4" font-size="15" textLength="31" lengthAdjust="spacingAndGlyphs">hatch</text>
</svg>
</body></html>
